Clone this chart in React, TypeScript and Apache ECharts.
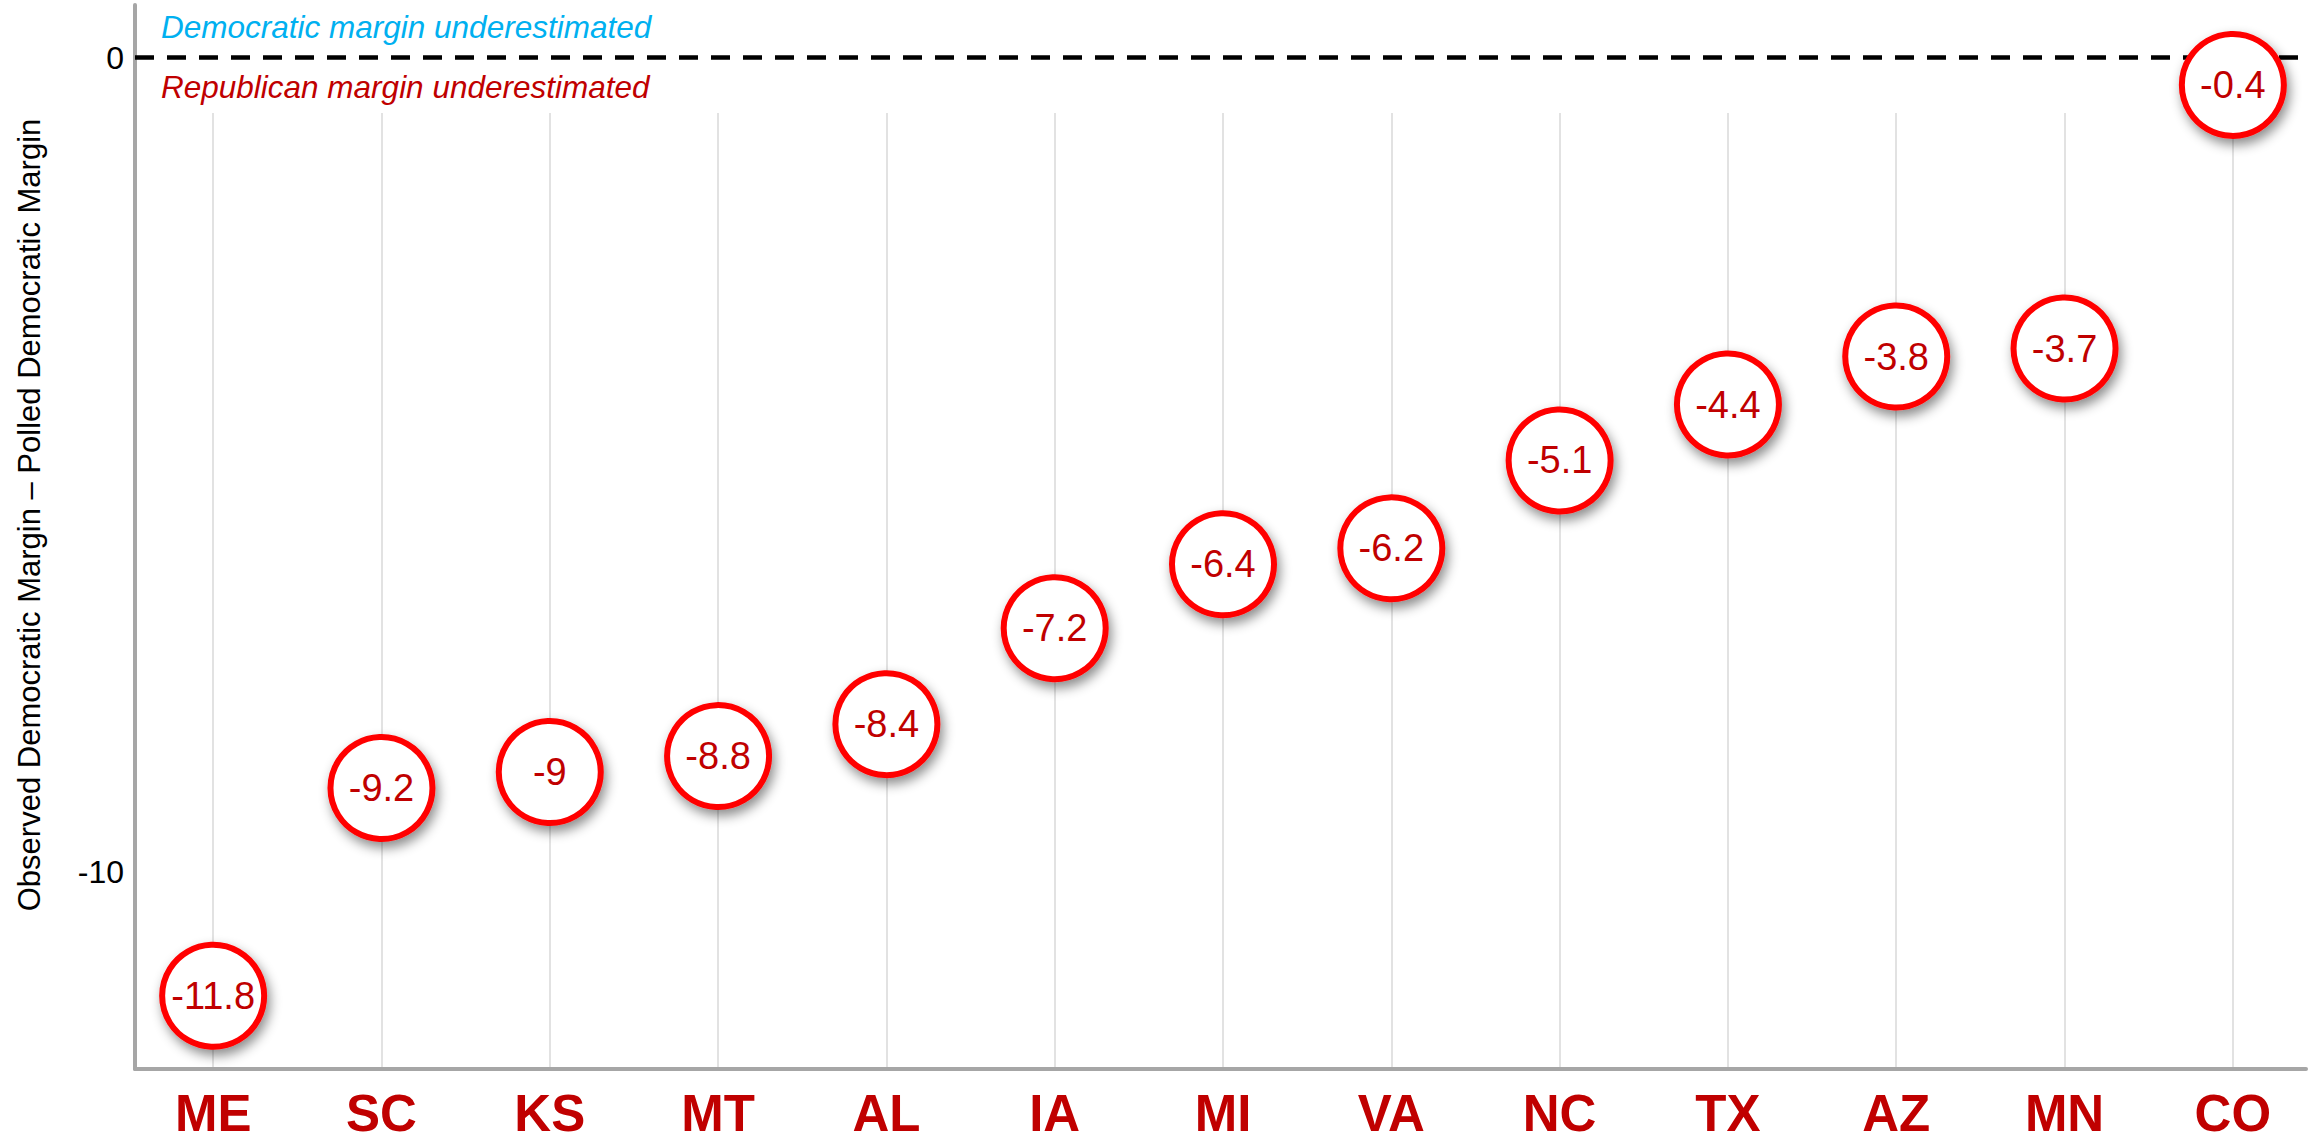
import React, { useEffect, useRef } from "react";
import * as echarts from "echarts";

const states = ["ME", "SC", "KS", "MT", "AL", "IA", "MI", "VA", "NC", "TX", "AZ", "MN", "CO"];
const margins = [-11.8, -9.2, -9, -8.8, -8.4, -7.2, -6.4, -6.2, -5.1, -4.4, -3.8, -3.7, -0.4];
const yTicks = [0, -10];
const yAxisTitle = "Observed Democratic Margin \u2013 Polled Democratic Margin";
const demNote = "Democratic margin underestimated";
const repNote = "Republican margin underestimated";

const FONT = "'Liberation Sans', Arial, Helvetica, sans-serif";

export default function App() {
  const ref = useRef<HTMLDivElement>(null);

  useEffect(() => {
    document.body.style.margin = "0";
    if (!ref.current) return;
    const chart = echarts.init(ref.current, undefined, { renderer: "svg" });
    const option: any = {
      animation: false,
      backgroundColor: "#ffffff",
      textStyle: { fontFamily: FONT },
      grid: [
        { left: 135, right: 12, top: 5, bottom: 71 },
        { left: 129, width: 2188, top: 5, bottom: 71 },
        { left: 213.15, width: 2019.6, top: 113, bottom: 71 },
      ],
      xAxis: [
        {
          gridIndex: 0,
          type: "value",
          min: 0,
          max: 1,
          axisLine: { show: true, onZero: false, lineStyle: { color: "#A6A6A6", width: 4 } },
          axisTick: { show: false },
          axisLabel: { show: false },
          splitLine: { show: false },
        },
        {
          gridIndex: 1,
          type: "category",
          data: states,
          axisLine: { show: false },
          axisTick: { show: false },
          axisLabel: {
            color: "#C00000",
            fontSize: 51,
            fontWeight: "bold",
            fontFamily: FONT,
            lineHeight: 44,
            margin: 22,
          },
          splitLine: { show: false },
        },
        {
          gridIndex: 2,
          type: "value",
          min: 0,
          max: states.length - 1,
          interval: 1,
          axisLine: { show: false },
          axisTick: { show: false },
          axisLabel: { show: false },
          splitLine: { show: true, lineStyle: { color: "#D9D9D9", width: 1.5 } },
        },
      ],
      yAxis: [
        {
          gridIndex: 0,
          type: "value",
          min: -12.419,
          max: 0.647,
          axisLine: { show: true, onZero: false, lineStyle: { color: "#A6A6A6", width: 4 } },
          axisTick: { show: false },
          axisLabel: {
            customValues: yTicks,
            color: "#000000",
            fontSize: 32,
            fontFamily: FONT,
            margin: 11,
          },
          splitLine: { show: false },
        },
        { gridIndex: 1, type: "value", min: -12.716, max: 0.6, show: false, splitLine: { show: false } },
        { gridIndex: 2, type: "value", min: 0, max: 1, show: false, splitLine: { show: false } },
      ],
      series: [
        {
          type: "line",
          xAxisIndex: 0,
          yAxisIndex: 0,
          data: [],
          showSymbol: false,
          silent: true,
          z: 3,
          markLine: {
            silent: true,
            symbol: ["none", "none"],
            label: { show: false },
            lineStyle: { color: "#000000", width: 4.5, type: [19, 13], opacity: 1 },
            data: [{ yAxis: 0 }],
          },
        },
        {
          type: "scatter",
          xAxisIndex: 1,
          yAxisIndex: 1,
          data: margins,
          symbol: "circle",
          symbolSize: 102,
          z: 5,
          itemStyle: {
            color: "#ffffff",
            opacity: 1,
            borderColor: "#FF0000",
            borderWidth: 6,
            shadowBlur: 12,
            shadowOffsetX: 3,
            shadowOffsetY: 6,
            shadowColor: "rgba(0,0,0,0.45)",
          },
          label: {
            show: true,
            position: "inside",
            formatter: (p: any) => String(p.value),
            color: "#C00000",
            fontSize: 38,
            fontFamily: FONT,
          },
        },
      ],
      graphic: [
        {
          type: "text",
          x: 161,
          y: 27,
          style: {
            text: demNote,
            fill: "#00B0F0",
            font: `italic 31.5px ${FONT}`,
            textAlign: "left",
            textVerticalAlign: "middle",
          },
        },
        {
          type: "text",
          x: 161,
          y: 87,
          style: {
            text: repNote,
            fill: "#C00000",
            font: `italic 31.5px ${FONT}`,
            textAlign: "left",
            textVerticalAlign: "middle",
          },
        },
        {
          type: "text",
          x: 29,
          y: 515,
          rotation: Math.PI / 2,
          style: {
            text: yAxisTitle,
            fill: "#000000",
            font: `31px ${FONT}`,
            textAlign: "center",
            textVerticalAlign: "middle",
          },
        },
      ],
    };
    chart.setOption(option);
    return () => chart.dispose();
  }, []);

  return <div ref={ref} style={{ width: 2318, height: 1140 }} />;
}
